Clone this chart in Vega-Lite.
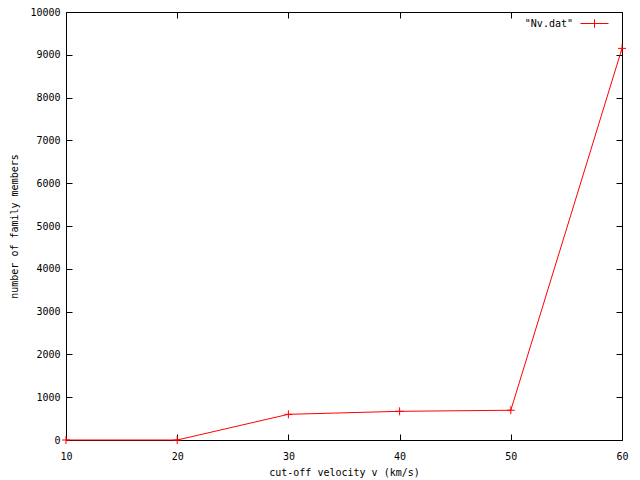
{
  "$schema": "https://vega.github.io/schema/vega-lite/v6.json",
  "width": 556,
  "height": 428,
  "autosize": "none",
  "padding": {"left": 66, "top": 12, "right": 18, "bottom": 40},
  "background": "white",
  "config": {
    "view": {"stroke": null},
    "font": "DejaVu Sans Mono",
    "axis": {
      "grid": false,
      "domainColor": "black",
      "tickColor": "black",
      "labelColor": "black",
      "titleColor": "black",
      "labelFont": "DejaVu Sans Mono",
      "titleFont": "DejaVu Sans Mono",
      "labelFontSize": 10,
      "titleFontSize": 10,
      "titleFontWeight": "normal",
      "labelFlush": false,
      "labelOverlap": false,
      "tickSize": -6,
      "domainWidth": 1,
      "tickWidth": 1
    },
    "legend": {
      "labelFont": "DejaVu Sans Mono",
      "labelFontSize": 10,
      "labelColor": "black"
    }
  },
  "data": {
    "values": [
      {"v": 10, "n": 0, "s": "\"Nv.dat\""},
      {"v": 20, "n": 0, "s": "\"Nv.dat\""},
      {"v": 30, "n": 600, "s": "\"Nv.dat\""},
      {"v": 40, "n": 670, "s": "\"Nv.dat\""},
      {"v": 50, "n": 695, "s": "\"Nv.dat\""},
      {"v": 60, "n": 9150, "s": "\"Nv.dat\""}
    ]
  },
  "resolve": {"axis": {"x": "independent", "y": "independent"}},
  "layer": [
    {
      "mark": {"type": "line", "strokeWidth": 1},
      "encoding": {
        "x": {"field": "v", "type": "quantitative", "scale": {"domain": [10, 60], "nice": false},
          "axis": {"orient": "bottom", "values": [10, 20, 30, 40, 50, 60], "format": "d", "title": "cut-off velocity v (km/s)", "labelPadding": 17, "titleY": 32, "titleBaseline": "middle"}},
        "y": {"field": "n", "type": "quantitative", "scale": {"domain": [0, 10000], "nice": false},
          "axis": {"orient": "left", "values": [0,1000,2000,3000,4000,5000,6000,7000,8000,9000,10000], "format": "d", "title": "number of family members", "labelPadding": 12, "titleX": -52, "titleY": 214, "titleAngle": -90, "titleAlign": "center", "titleBaseline": "middle"}},
        "color": {"field": "s", "type": "nominal", "scale": {"range": ["#ff0000"]},
          "legend": {"title": null, "orient": "none", "legendX": 514, "legendY": -3, "symbolType": "M-1,0H1M0,-0.3V0.3", "symbolSize": 784, "symbolStrokeWidth": 1, "labelAlign": "right", "labelOffset": -36}}
      }
    },
    {
      "mark": {"type": "point", "shape": "M-1,0H1M0,-1V1", "filled": false, "size": 64, "strokeWidth": 1, "opacity": 1},
      "encoding": {
        "x": {"field": "v", "type": "quantitative", "axis": null},
        "y": {"field": "n", "type": "quantitative", "axis": null},
        "color": {"field": "s", "type": "nominal", "legend": null}
      }
    },
    {
      "mark": {"type": "point", "opacity": 0},
      "encoding": {
        "x": {"field": "v", "type": "quantitative", "axis": {"orient": "top", "values": [10, 20, 30, 40, 50, 60], "labels": false, "title": null}},
        "y": {"field": "n", "type": "quantitative", "axis": {"orient": "right", "values": [0,1000,2000,3000,4000,5000,6000,7000,8000,9000,10000], "labels": false, "title": null}}
      }
    }
  ]
}
